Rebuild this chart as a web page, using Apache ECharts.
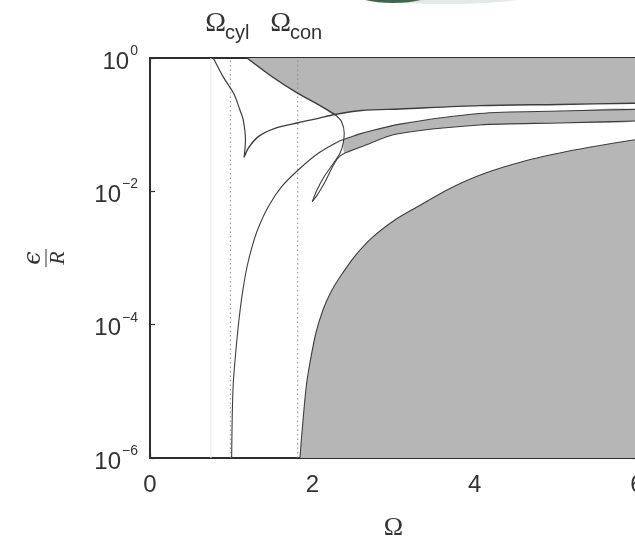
<!DOCTYPE html>
<html><head><meta charset="utf-8">
<script src="https://cdn.jsdelivr.net/npm/echarts@6/dist/echarts.min.js"></script>
<style>html,body{margin:0;padding:0;background:#fff;overflow:hidden}#c{width:635px;height:539px}</style>
</head><body><div id="c"></div><script>
// ---- data (Ω, ε/R) ----
const xTickValues = [0, 2, 4, 6];
const yTickExponents = [0, -2, -4, -6];
const omegaCyl = 0.99;
const omegaCon = 1.82;
const omegaFaint = 0.75;

// left branch of the cusp curve (from top down to the cusp)
const cuspLeft = [[0.78,1],[0.90,0.525],[1.03,0.295],[1.108,0.166],[1.149,0.1175],[1.176,0.0589],[1.16,0.0324]];
// right branch of the cusp curve up to the junction
const cuspRight = [[1.16,0.0324],[1.21,0.0442],[1.334,0.0661],[1.539,0.0881],[1.826,0.107],[2.073,0.1245],[2.278,0.142]];
// continuation of right branch: lower edge of upper shaded region
const upperEdge = [[2.278,0.142],[2.607,0.163],[3.08,0.172],[4.06,0.193],[5.05,0.201],[6.0,0.21]];
// upper boundary of upper shaded region (from top to junction)
const topBoundary = [[1.195,1],[1.518,0.51],[1.823,0.295],[2.106,0.19],[2.278,0.142]];
// S-shaped continuation down to the tip of the loop
const sCurve = [[2.278,0.142],[2.36,0.111],[2.393,0.0741],[2.38,0.0525],[2.34,0.0372],[2.254,0.0257],[2.143,0.0164],[2.057,0.01047],[1.999,0.0070]];
// return branch of the loop: lower edge of the shaded band
const loopReturn = [[1.999,0.0070],[2.069,0.00912],[2.155,0.0138],[2.241,0.0224],[2.315,0.0316],[2.401,0.0376],[2.607,0.0468],[3.04,0.0724],[4.06,0.0989],[5.05,0.106],[6.0,0.1135]];
// long curve rising from the bottom: upper edge of the band
const longCurve = [[1.006,1e-6],[1.013,4.17e-6],[1.026,1.32e-5],[1.059,4.17e-5],[1.096,1.175e-4],[1.139,2.99e-4],[1.195,7.33e-4],[1.256,1.46e-3],[1.334,2.82e-3],[1.457,5.89e-3],[1.622,0.01175],[1.826,0.0209],[2.073,0.0372],[2.319,0.0556],[2.484,0.0661],[2.607,0.0741],[3.08,0.102],[4.06,0.147],[5.05,0.160],[6.0,0.170]];
// shaded band polygon (between long curve and loop return, right of the S curve)
const bandPolygon = [[2.389,0.060],[2.484,0.0661],[2.607,0.0741],[3.08,0.102],[4.06,0.147],[5.05,0.160],[6.0,0.170],[6.0,0.1135],[5.05,0.106],[4.06,0.0989],[3.04,0.0724],[2.607,0.0468],[2.401,0.0376],[2.38,0.0525]];
// boundary of the large lower-right shaded region
const lowerBoundary = [[1.847,1e-6],[1.889,4.17e-6],[1.927,1.245e-5],[1.970,2.66e-5],[2.044,7.5e-5],[2.131,1.66e-4],[2.229,3.09e-4],[2.340,5.19e-4],[2.525,1.07e-3],[2.746,2.07e-3],[3.017,3.72e-3],[3.288,5.82e-3],[3.695,0.01104],[4.101,0.0182],[4.618,0.0285],[5.135,0.0396],[5.542,0.0488],[6.0,0.060]];

// ---- style ----
const GRAY = '#b5b6b5';
const LINE = '#3d3d3d';
const AX = '#2e2e2e';
const SMOOTH = 0.3;

function curve(data, w, z) {
  return { type:'line', data, showSymbol:false, smooth:SMOOTH, silent:true, z:z||5,
    lineStyle:{ color:LINE, width:w||1.2 } };
}
function vline(x, color, type) {
  return { type:'line', data:[[x,1e-6],[x,1]], showSymbol:false, silent:true, z:3,
    lineStyle:{ color, width:1, type } };
}

const chart = echarts.init(document.getElementById('c'), null, {renderer:'canvas'});
const labelFont = 'Liberation Sans, Arial, sans-serif';
const serif = 'Liberation Serif, DejaVu Serif, serif';
const yFormatter = v => {
  const e = Math.round(Math.log10(v));
  return '{b|10}{s|' + (e < 0 ? '\u2212' + (-e) : String(e)) + '}';
};
const yRich = {
  b:{ fontSize:24, color:'#333', fontFamily:labelFont, padding:[8,0,0,0] },
  s:{ fontSize:14, color:'#333', fontFamily:labelFont, verticalAlign:'top', padding:[2,0,0,1] }
};
const axisCommon = {
  axisLine:{ show:true, onZero:false, lineStyle:{ color:AX, width:2 } },
  axisTick:{ show:true, inside:true, length:5, lineStyle:{ color:AX, width:1.2 } },
  splitLine:{ show:false }
};

chart.setOption({
  animation:false,
  backgroundColor:'#fff',
  grid:{ left:150, top:58, width:487, height:400, containLabel:false, outerBoundsMode:'none' },
  xAxis:[
    Object.assign({ type:'value', min:0, max:6, interval:2, position:'bottom',
      axisLabel:{ fontSize:24, color:'#333', margin:15, fontFamily:labelFont, hideOverlap:false },
      name:'\u03A9', nameLocation:'middle', nameGap:57,
      nameTextStyle:{ fontSize:26, color:'#333', fontFamily:serif } }, axisCommon),
    Object.assign({ type:'value', min:0, max:6, interval:2, position:'top',
      axisLabel:{ show:false } }, axisCommon)
  ],
  yAxis:[
    Object.assign({ type:'log', logBase:10, min:1e-6, max:1, interval:2, position:'left',
      axisLabel:{ formatter:yFormatter, rich:yRich, margin:12, hideOverlap:false } }, axisCommon),
    Object.assign({ type:'log', logBase:10, min:1e-6, max:1, interval:2, position:'right',
      axisLabel:{ show:false } }, axisCommon)
  ],
  graphic:[
    { type:'ellipse', shape:{ cx:445, cy:-6, rx:90, ry:10 }, style:{ fill:'#e3e9e5' }, silent:true },
    { type:'ellipse', shape:{ cx:393, cy:-9, rx:42, ry:12 }, style:{ fill:'#3f6650' }, silent:true },
    { type:'text', x:226, y:24, style:{ text:'\u03A9', fontSize:28, fontFamily:serif, fill:'#333', align:'right', verticalAlign:'middle' } },
    { type:'text', x:225, y:33, style:{ text:'cyl', fontSize:20, fontFamily:labelFont, fill:'#333', align:'left', verticalAlign:'middle' } },
    { type:'text', x:291, y:24, style:{ text:'\u03A9', fontSize:28, fontFamily:serif, fill:'#333', align:'right', verticalAlign:'middle' } },
    { type:'text', x:290, y:33, style:{ text:'con', fontSize:20, fontFamily:labelFont, fill:'#333', align:'left', verticalAlign:'middle' } },
    { type:'group', x:46, y:258, rotation:Math.PI/2, children:[
      { type:'text', x:0, y:-12, style:{ text:'\u03F5', fontSize:24, fontStyle:'italic', fontFamily:'DejaVu Serif, Liberation Serif, serif', fill:'#333', align:'center', verticalAlign:'middle' } },
      { type:'line', shape:{ x1:-9, y1:0, x2:9, y2:0 }, style:{ stroke:'#333', lineWidth:1 } },
      { type:'text', x:0, y:12, style:{ text:'R', fontSize:22, fontStyle:'italic', fontFamily:serif, fill:'#333', align:'center', verticalAlign:'middle' } }
    ]}
  ],
  series:[
    // upper shaded region
    { type:'line', data: topBoundary.concat(upperEdge.slice(1)), showSymbol:false, smooth:SMOOTH, silent:true, z:1,
      lineStyle:{ width:0, opacity:0 }, areaStyle:{ color:GRAY, opacity:1, origin:'end' } },
    // lower-right shaded region
    { type:'line', data: lowerBoundary, showSymbol:false, smooth:SMOOTH, silent:true, z:1,
      lineStyle:{ width:0, opacity:0 }, areaStyle:{ color:GRAY, opacity:1, origin:'start' } },
    // shaded band
    { type:'custom', data: bandPolygon, silent:true, z:1, clip:true,
      renderItem:(params, api) => params.dataIndex !== 0 ? null : ({
        type:'polygon', shape:{ points: bandPolygon.map(p => api.coord(p)), smooth:SMOOTH },
        style:{ fill:GRAY, stroke:null } }) },
    vline(omegaFaint, '#e4e4e4', 'solid'),
    vline(omegaCyl, '#8a8a8a', [1.5, 3]),
    vline(omegaCon, '#8a8a8a', [1.5, 3]),
    curve(cuspLeft, 1.2),
    curve(cuspRight.concat(upperEdge.slice(1)), 1.4),
    curve(topBoundary, 1.5),
    curve(sCurve, 1.1),
    curve(loopReturn, 1.1),
    curve(longCurve, 1.1),
    curve(lowerBoundary, 1.1)
  ]
});
</script></body></html>
